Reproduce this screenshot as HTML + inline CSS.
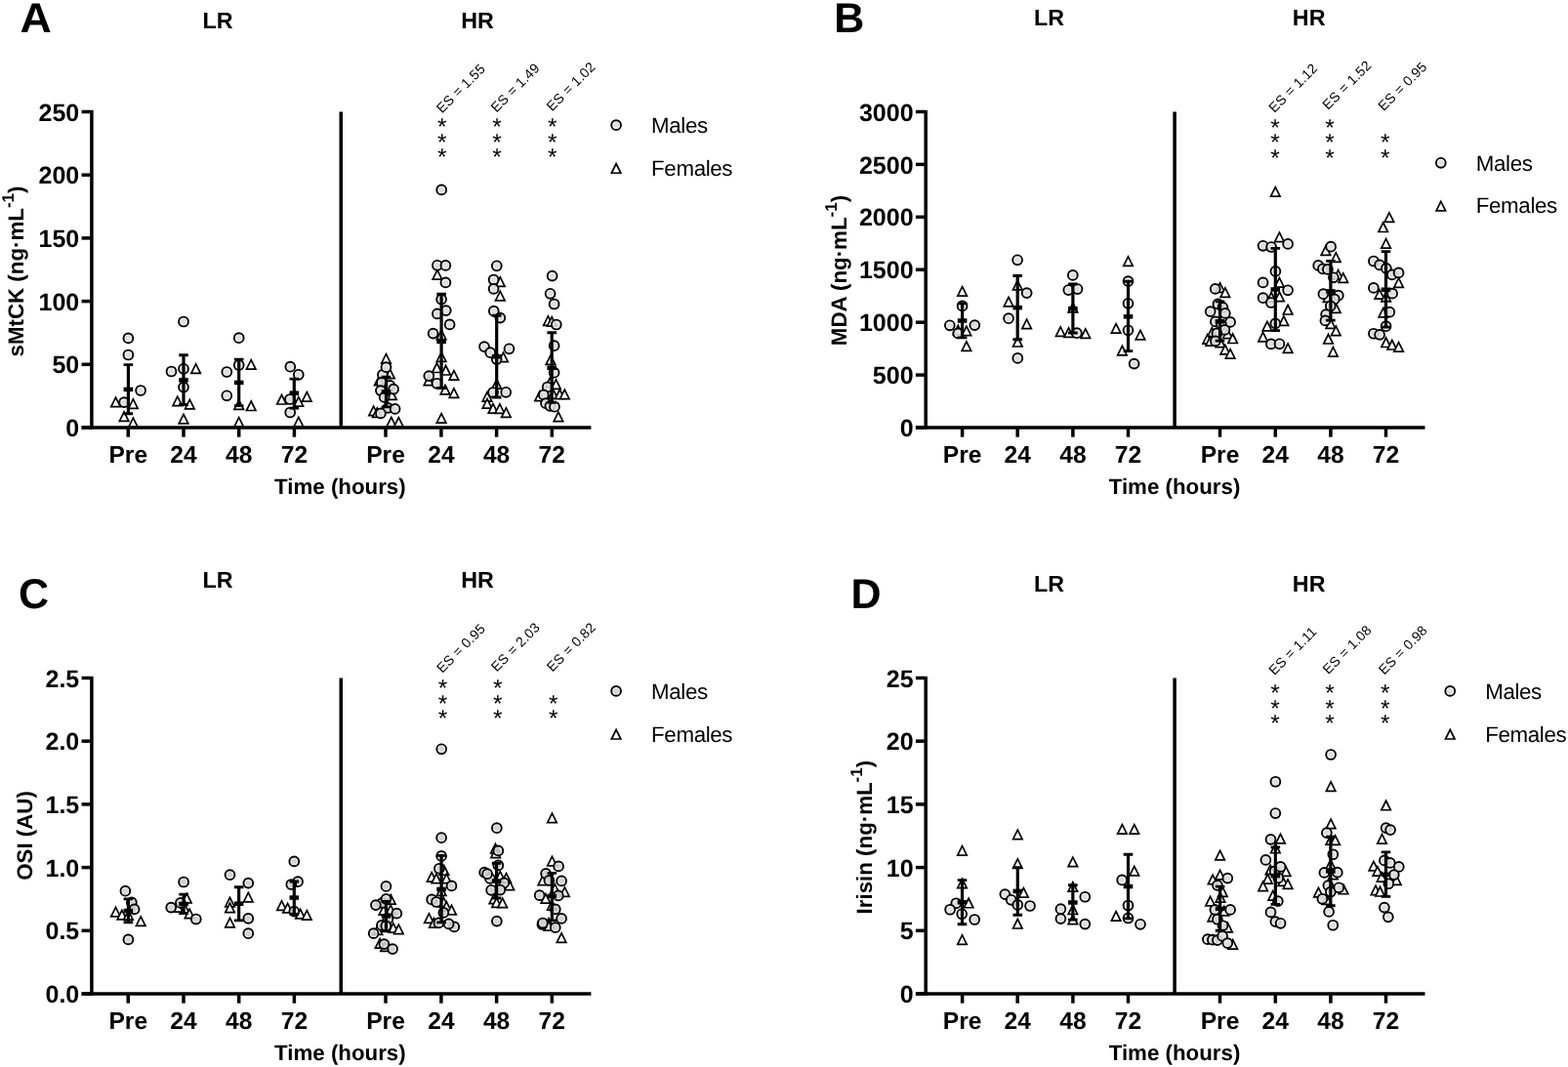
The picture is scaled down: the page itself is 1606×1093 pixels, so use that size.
<!DOCTYPE html>
<html lang="en">
<head>
<meta charset="utf-8">
<title>Figure: sMtCK, MDA, OSI and Irisin in LR and HR groups</title>
<style>
html,body{margin:0;padding:0;background:#fff}
body{width:1606px;height:1093px;overflow:hidden}
svg{display:block}
text{font-family:"Liberation Sans",Arial,Helvetica,sans-serif;fill:#000;text-rendering:geometricPrecision}
.tk text{font-weight:bold;font-size:25px}
.xt{font-weight:bold;font-size:22.3px}
.tk.x text{font-size:24.6px}
.pl{font-weight:bold;font-size:43px}
.gt{font-weight:bold;font-size:23.3px}
.lg{font-size:22.3px;letter-spacing:-0.35px}
.es{font-size:14px;letter-spacing:0.2px}
.st{font-size:24.5px}
.sup{font-size:17px}
.ax path{stroke:#000;stroke-width:3.5;fill:none}
.mk .c circle{fill:url(#gf);fill-opacity:0.9;stroke:#000;stroke-width:1.9}
.mk.dk .c circle{fill:url(#gd)}
.mk .t path{fill:#fff;stroke:#000;stroke-width:1.7;stroke-linejoin:miter;stroke-miterlimit:10}
.eb path{stroke:#000;stroke-width:3.2;fill:none}
.eb .cap{stroke-width:2.9}
.eb .mn{stroke-width:4.5}
</style>
</head>
<body>
<svg width="1606" height="1093" viewBox="0 0 1606 1093" role="img" aria-label="Scatter plots of sMtCK, MDA, OSI and Irisin in LR and HR groups for males and females">
<defs>
<radialGradient id="gf" cx="0.5" cy="0.5" r="0.5">
<stop offset="0" stop-color="#dadada"/>
<stop offset="0.5" stop-color="#dcdcdc"/>
<stop offset="0.78" stop-color="#f4f4f4"/>
<stop offset="1" stop-color="#fff"/>
</radialGradient>
<radialGradient id="gd" cx="0.5" cy="0.5" r="0.5">
<stop offset="0" stop-color="#cecece"/>
<stop offset="0.5" stop-color="#d0d0d0"/>
<stop offset="0.78" stop-color="#f0f0f0"/>
<stop offset="1" stop-color="#fff"/>
</radialGradient>
</defs>
<rect width="1606" height="1093" fill="#fff"/>
<g class="panel">
<g class="mk"><g class="t"><path d="M118.5 407.1L123.25 416.6L113.75 416.6Z"/><path d="M136.4 408.8L141.15 418.3L131.65 418.3Z"/><path d="M127.1 421.8L131.85 431.3L122.35 431.3Z"/><path d="M136.4 428.2L141.15 437.7L131.65 437.7Z"/></g><g class="c"><circle cx="131.4" cy="346.4" r="4.9"/><circle cx="131.4" cy="363.5" r="4.9"/><circle cx="144.1" cy="400" r="4.9"/><circle cx="127.1" cy="412.1" r="4.9"/></g></g>
<g class="mk"><g class="t"><path d="M200.6 372.9L205.35 382.4L195.85 382.4Z"/><path d="M181.8 406.1L186.55 415.6L177.05 415.6Z"/><path d="M194.3 409.4L199.05 418.9L189.55 418.9Z"/><path d="M188 424.4L192.75 433.9L183.25 433.9Z"/></g><g class="c"><circle cx="188" cy="329.5" r="4.9"/><circle cx="188" cy="377.8" r="4.9"/><circle cx="175.5" cy="380.5" r="4.9"/><circle cx="188" cy="396.6" r="4.9"/></g></g>
<g class="mk"><g class="t"><path d="M257.2 368.7L261.95 378.2L252.45 378.2Z"/><path d="M244.7 409.8L249.45 419.3L239.95 419.3Z"/><path d="M257.2 411L261.95 420.5L252.45 420.5Z"/><path d="M244.7 427.7L249.45 437.2L239.95 437.2Z"/></g><g class="c"><circle cx="244.7" cy="346.2" r="4.9"/><circle cx="244.7" cy="374" r="4.9"/><circle cx="232.3" cy="381" r="4.9"/><circle cx="232.3" cy="405.3" r="4.9"/></g></g>
<g class="mk"><g class="t"><path d="M288.5 404.5L293.25 414L283.75 414Z"/><path d="M305.8 406.7L310.55 416.2L301.05 416.2Z"/><path d="M314.3 401.7L319.05 411.2L309.55 411.2Z"/><path d="M305.8 427.3L310.55 436.8L301.05 436.8Z"/></g><g class="c"><circle cx="297.3" cy="375.7" r="4.9"/><circle cx="305.8" cy="383.8" r="4.9"/><circle cx="297" cy="409" r="4.9"/><circle cx="297.2" cy="422.5" r="4.9"/></g></g>
<g class="mk"><g class="t"><path d="M395.45 362.7L400.2 372.2L390.7 372.2Z"/><path d="M399.4 378.1L404.15 387.6L394.65 387.6Z"/><path d="M388.3 385.1L393.05 394.6L383.55 394.6Z"/><path d="M401.4 399.9L406.15 409.4L396.65 409.4Z"/><path d="M396.8 411.6L401.55 421.1L392.05 421.1Z"/><path d="M382.6 416.1L387.35 425.6L377.85 425.6Z"/><path d="M386.3 417.8L391.05 427.3L381.55 427.3Z"/><path d="M400.8 427.3L405.55 436.8L396.05 436.8Z"/><path d="M408.3 427.55L413.05 437.05L403.55 437.05Z"/></g><g class="c"><circle cx="391.9" cy="383.9" r="4.9"/><circle cx="395.45" cy="376.2" r="4.9"/><circle cx="390.9" cy="391.9" r="4.9"/><circle cx="399.3" cy="394.9" r="4.9"/><circle cx="403.1" cy="398.6" r="4.9"/><circle cx="389.9" cy="400.1" r="4.9"/><circle cx="393.6" cy="406.9" r="4.9"/><circle cx="397.3" cy="417.9" r="4.9"/><circle cx="404.6" cy="418.9" r="4.9"/><circle cx="389.9" cy="423.4" r="4.9"/></g></g>
<g class="mk"><g class="t"><path d="M447.9 276.7L452.65 286.2L443.15 286.2Z"/><path d="M452.1 338.1L456.85 347.6L447.35 347.6Z"/><path d="M452.1 360.9L456.85 370.4L447.35 370.4Z"/><path d="M447.5 372L452.25 381.5L442.75 381.5Z"/><path d="M456.6 374.5L461.35 384L451.85 384Z"/><path d="M464.9 379.6L469.65 389.1L460.15 389.1Z"/><path d="M439 385.1L443.75 394.6L434.25 394.6Z"/><path d="M456 394.3L460.75 403.8L451.25 403.8Z"/><path d="M464.9 397.8L469.65 407.3L460.15 407.3Z"/><path d="M452.1 423.6L456.85 433.1L447.35 433.1Z"/></g><g class="c"><circle cx="452.2" cy="194.4" r="4.9"/><circle cx="447.9" cy="271.8" r="4.9"/><circle cx="456.4" cy="271.9" r="4.9"/><circle cx="456.4" cy="289.4" r="4.9"/><circle cx="452.1" cy="306.6" r="4.9"/><circle cx="456.8" cy="318.1" r="4.9"/><circle cx="447.9" cy="321.4" r="4.9"/><circle cx="460.6" cy="332.4" r="4.9"/><circle cx="443.6" cy="341.6" r="4.9"/><circle cx="439.3" cy="385.1" r="4.9"/><circle cx="447.5" cy="392.8" r="4.9"/></g></g>
<g class="mk"><g class="t"><path d="M512.3 283.8L517.05 293.3L507.55 293.3Z"/><path d="M512.3 298.4L517.05 307.9L507.55 307.9Z"/><path d="M515.5 361.1L520.25 370.6L510.75 370.6Z"/><path d="M508.7 388.7L513.45 398.2L503.95 398.2Z"/><path d="M499 401.6L503.75 411.1L494.25 411.1Z"/><path d="M499 408.6L503.75 418.1L494.25 418.1Z"/><path d="M505 413.7L509.75 423.2L500.25 423.2Z"/><path d="M511.9 413.9L516.65 423.4L507.15 423.4Z"/><path d="M518.4 417.8L523.15 427.3L513.65 427.3Z"/></g><g class="c"><circle cx="508.8" cy="272.3" r="4.9"/><circle cx="505.6" cy="286.5" r="4.9"/><circle cx="505.6" cy="295.9" r="4.9"/><circle cx="505.8" cy="318.7" r="4.9"/><circle cx="512.3" cy="325.6" r="4.9"/><circle cx="496" cy="355.1" r="4.9"/><circle cx="502.2" cy="361.2" r="4.9"/><circle cx="521.5" cy="357.3" r="4.9"/><circle cx="508.7" cy="368.1" r="4.9"/><circle cx="505" cy="402" r="4.9"/><circle cx="518.2" cy="401.8" r="4.9"/></g></g>
<g class="mk"><g class="t"><path d="M561.4 323.8L566.15 333.3L556.65 333.3Z"/><path d="M565.2 324.6L569.95 334.1L560.45 334.1Z"/><path d="M564 363.8L568.75 373.3L559.25 373.3Z"/><path d="M563.2 387.1L567.95 396.6L558.45 396.6Z"/><path d="M569.5 388.9L574.25 398.4L564.75 398.4Z"/><path d="M566.5 398.8L571.25 408.3L561.75 408.3Z"/><path d="M573.3 399L578.05 408.5L568.55 408.5Z"/><path d="M578.3 399.1L583.05 408.6L573.55 408.6Z"/><path d="M552.6 401.1L557.35 410.6L547.85 410.6Z"/><path d="M571.9 422.2L576.65 431.7L567.15 431.7Z"/></g><g class="c"><circle cx="565.6" cy="282.6" r="4.9"/><circle cx="563.6" cy="300.8" r="4.9"/><circle cx="567.6" cy="311.5" r="4.9"/><circle cx="569.8" cy="332.5" r="4.9"/><circle cx="567.6" cy="354.2" r="4.9"/><circle cx="567.6" cy="381.7" r="4.9"/><circle cx="560.7" cy="396.5" r="4.9"/><circle cx="556.8" cy="404.4" r="4.9"/><circle cx="559" cy="413.2" r="4.9"/><circle cx="563.4" cy="415.8" r="4.9"/><circle cx="568" cy="416.7" r="4.9"/></g></g>
<g class="eb"><path d="M131.4 373.6V423.7"/><path class="cap" d="M126.6 373.6H136.2M126.6 423.7H136.2"/><path class="mn" d="M126.6 398.9H136.2"/></g>
<g class="eb"><path d="M188 363.8V414.5"/><path class="cap" d="M183.2 363.8H192.8M183.2 414.5H192.8"/><path class="mn" d="M183.2 389.4H192.8"/></g>
<g class="eb"><path d="M244.7 368.1V415.6"/><path class="cap" d="M239.9 368.1H249.5M239.9 415.6H249.5"/><path class="mn" d="M239.9 391.9H249.5"/></g>
<g class="eb"><path d="M301.3 388.1V418.1"/><path class="cap" d="M296.5 388.1H306.1M296.5 418.1H306.1"/><path class="mn" d="M296.5 402.7H306.1"/></g>
<g class="eb"><path d="M395.5 386.1V416.9"/><path class="cap" d="M390.7 386.1H400.3M390.7 416.9H400.3"/><path class="mn" d="M390.7 401.4H400.3"/></g>
<g class="eb"><path d="M452.1 301.3V397.5"/><path class="cap" d="M447.3 301.3H456.9M447.3 397.5H456.9"/><path class="mn" d="M447.3 349.9H456.9"/></g>
<g class="eb"><path d="M508.7 323.2V407"/><path class="cap" d="M503.9 323.2H513.5M503.9 407H513.5"/><path class="mn" d="M503.9 365.2H513.5"/></g>
<g class="eb"><path d="M565.2 340.7V412.2"/><path class="cap" d="M560.4 340.7H570M560.4 412.2H570"/><path class="mn" d="M560.4 376.8H570"/></g>
<g class="ax">
<path d="M83.6 438H605.4"/>
<path d="M93.9 112.9V439.6"/>
<path d="M349.25 114.5V438"/>
<path d="M83.6 438H93.9"/>
<path d="M83.6 373.3H93.9"/>
<path d="M83.6 308.6H93.9"/>
<path d="M83.6 243.9H93.9"/>
<path d="M83.6 179.2H93.9"/>
<path d="M83.6 114.5H93.9"/>
<path d="M131.25 438V447.7"/>
<path d="M188 438V447.7"/>
<path d="M244.7 438V447.7"/>
<path d="M301.4 438V447.7"/>
<path d="M395 438V447.7"/>
<path d="M451.9 438V447.7"/>
<path d="M508.6 438V447.7"/>
<path d="M565.3 438V447.7"/>
</g>
<g class="tk" text-anchor="end">
<text x="81.25" y="447.1">0</text>
<text x="81.25" y="382.4">50</text>
<text x="81.25" y="317.7">100</text>
<text x="81.25" y="253">150</text>
<text x="81.25" y="188.3">200</text>
<text x="81.25" y="123.6">250</text>
</g>
<g class="tk x" text-anchor="middle">
<text x="131.25" y="473.7">Pre</text>
<text x="188" y="473.7">24</text>
<text x="244.7" y="473.7">48</text>
<text x="301.4" y="473.7">72</text>
<text x="395" y="473.7">Pre</text>
<text x="451.9" y="473.7">24</text>
<text x="508.6" y="473.7">48</text>
<text x="565.3" y="473.7">72</text>
</g>
<text class="xt" text-anchor="middle" x="348.4" y="505.6">Time (hours)</text>
<text class="xt" text-anchor="middle" transform="translate(24.3 278) rotate(-90)">sMtCK (ng·mL<tspan class="sup" dy="-10">-1</tspan><tspan dy="10">)</tspan></text>
<text class="pl" transform="translate(20.4 32.8) scale(1.04 1)">A</text>
<text class="gt" text-anchor="middle" x="223" y="29.3">LR</text>
<text class="gt" text-anchor="middle" x="489" y="29.3">HR</text>
<g class="mk"><g class="c"><circle cx="631.1" cy="128.15" r="4.9"/></g><g class="t"><path d="M631.1 167.75L635.85 177.25L626.35 177.25Z"/></g></g>
<text class="lg" x="667.1" y="135.85">Males</text>
<text class="lg" x="667.1" y="179.75">Females</text>
<text class="es" transform="translate(452.8 116.4) rotate(-45)">ES = 1.55</text>
<text class="st" text-anchor="middle" x="452.8" y="169.3">*</text>
<text class="st" text-anchor="middle" x="452.8" y="153.7">*</text>
<text class="st" text-anchor="middle" x="452.8" y="138.1">*</text>
<text class="es" transform="translate(508.6 115.7) rotate(-45)">ES = 1.49</text>
<text class="st" text-anchor="middle" x="509" y="169.3">*</text>
<text class="st" text-anchor="middle" x="509" y="153.7">*</text>
<text class="st" text-anchor="middle" x="509" y="138.1">*</text>
<text class="es" transform="translate(565.6 114.4) rotate(-45)">ES = 1.02</text>
<text class="st" text-anchor="middle" x="565.8" y="169.3">*</text>
<text class="st" text-anchor="middle" x="565.8" y="153.7">*</text>
<text class="st" text-anchor="middle" x="565.8" y="138.1">*</text>
</g>
<g class="panel">
<g class="mk"><g class="t"><path d="M985.6 293.7L990.35 303.2L980.85 303.2Z"/><path d="M981.3 333.5L986.05 343L976.55 343Z"/><path d="M989.9 334.1L994.65 343.6L985.15 343.6Z"/><path d="M989.9 349.9L994.65 359.4L985.15 359.4Z"/></g><g class="c"><circle cx="985.6" cy="313.4" r="4.9"/><circle cx="972.8" cy="333.3" r="4.9"/><circle cx="998.3" cy="333.1" r="4.9"/><circle cx="981.2" cy="341.4" r="4.9"/></g></g>
<g class="mk"><g class="t"><path d="M1042.2 287.3L1046.95 296.8L1037.45 296.8Z"/><path d="M1033.05 304.4L1037.8 313.9L1028.3 313.9Z"/><path d="M1051.6 327.2L1056.35 336.7L1046.85 336.7Z"/><path d="M1042.3 345.5L1047.05 355L1037.55 355Z"/></g><g class="c"><circle cx="1042.1" cy="266.3" r="4.9"/><circle cx="1051.65" cy="300.1" r="4.9"/><circle cx="1033.05" cy="326.2" r="4.9"/><circle cx="1042.3" cy="366.9" r="4.9"/></g></g>
<g class="mk"><g class="t"><path d="M1098.9 310.4L1103.65 319.9L1094.15 319.9Z"/><path d="M1086.2 334.9L1090.95 344.4L1081.45 344.4Z"/><path d="M1094.6 335.8L1099.35 345.3L1089.85 345.3Z"/><path d="M1111.8 336.9L1116.55 346.4L1107.05 346.4Z"/></g><g class="c"><circle cx="1098.8" cy="281.9" r="4.9"/><circle cx="1094.3" cy="297.05" r="4.9"/><circle cx="1103.55" cy="296.05" r="4.9"/><circle cx="1102.9" cy="341.2" r="4.9"/></g></g>
<g class="mk"><g class="t"><path d="M1155.5 262.9L1160.25 272.4L1150.75 272.4Z"/><path d="M1143.1 331.7L1147.85 341.2L1138.35 341.2Z"/><path d="M1168 338.3L1172.75 347.8L1163.25 347.8Z"/><path d="M1149.4 354.3L1154.15 363.8L1144.65 363.8Z"/></g><g class="c"><circle cx="1155.5" cy="288.1" r="4.9"/><circle cx="1155.5" cy="310.8" r="4.9"/><circle cx="1155.5" cy="338.3" r="4.9"/><circle cx="1161.6" cy="372.6" r="4.9"/></g></g>
<g class="mk"><g class="t"><path d="M1249.6 289.8L1254.35 299.3L1244.85 299.3Z"/><path d="M1254.85 294.9L1259.6 304.4L1250.1 304.4Z"/><path d="M1241.4 335.6L1246.15 345.1L1236.65 345.1Z"/><path d="M1257.3 337.1L1262.05 346.6L1252.55 346.6Z"/><path d="M1236.7 342.6L1241.45 352.1L1231.95 352.1Z"/><path d="M1239.7 344.6L1244.45 354.1L1234.95 354.1Z"/><path d="M1262.6 342L1267.35 351.5L1257.85 351.5Z"/><path d="M1249.9 346.1L1254.65 355.6L1245.15 355.6Z"/><path d="M1254.85 353.3L1259.6 362.8L1250.1 362.8Z"/><path d="M1260.1 357.65L1264.85 367.15L1255.35 367.15Z"/></g><g class="c"><circle cx="1244.7" cy="295.9" r="4.9"/><circle cx="1247.4" cy="311.4" r="4.9"/><circle cx="1252.4" cy="314.9" r="4.9"/><circle cx="1239.7" cy="319.1" r="4.9"/><circle cx="1254.85" cy="320.9" r="4.9"/><circle cx="1244.9" cy="329.4" r="4.9"/><circle cx="1260.1" cy="329.9" r="4.9"/><circle cx="1250.9" cy="332.6" r="4.9"/><circle cx="1254.4" cy="337.9" r="4.9"/><circle cx="1246.4" cy="341.4" r="4.9"/><circle cx="1244.9" cy="349.4" r="4.9"/></g></g>
<g class="mk"><g class="t"><path d="M1306.3 191.6L1311.05 201.1L1301.55 201.1Z"/><path d="M1310.4 238.2L1315.15 247.7L1305.65 247.7Z"/><path d="M1310.4 284.6L1315.15 294.1L1305.65 294.1Z"/><path d="M1302.1 299.6L1306.85 309.1L1297.35 309.1Z"/><path d="M1310.5 299.1L1315.25 308.6L1305.75 308.6Z"/><path d="M1319.1 312.5L1323.85 322L1314.35 322Z"/><path d="M1314.85 323.8L1319.6 333.3L1310.1 333.3Z"/><path d="M1297.9 329.3L1302.65 338.8L1293.15 338.8Z"/><path d="M1293.6 340.3L1298.35 349.8L1288.85 349.8Z"/><path d="M1319.1 351.9L1323.85 361.4L1314.35 361.4Z"/></g><g class="c"><circle cx="1293.6" cy="251.8" r="4.9"/><circle cx="1302.1" cy="253" r="4.9"/><circle cx="1319.1" cy="249.9" r="4.9"/><circle cx="1306.4" cy="277.9" r="4.9"/><circle cx="1293.6" cy="289.4" r="4.9"/><circle cx="1319.1" cy="297.3" r="4.9"/><circle cx="1293.6" cy="305.2" r="4.9"/><circle cx="1301.9" cy="310" r="4.9"/><circle cx="1306.3" cy="331.35" r="4.9"/><circle cx="1301.9" cy="352.4" r="4.9"/><circle cx="1310.5" cy="352.3" r="4.9"/></g></g>
<g class="mk"><g class="t"><path d="M1357.9 251.9L1362.65 261.4L1353.15 261.4Z"/><path d="M1368.3 258.9L1373.05 268.4L1363.55 268.4Z"/><path d="M1370.6 276.6L1375.35 286.1L1365.85 286.1Z"/><path d="M1375.8 279.9L1380.55 289.4L1371.05 289.4Z"/><path d="M1360.1 299.9L1364.85 309.4L1355.35 309.4Z"/><path d="M1368.3 310.8L1373.05 320.3L1363.55 320.3Z"/><path d="M1362.9 326.9L1367.65 336.4L1358.15 336.4Z"/><path d="M1368.3 334.1L1373.05 343.6L1363.55 343.6Z"/><path d="M1360.5 342.5L1365.25 352L1355.75 352Z"/><path d="M1365.4 355.7L1370.15 365.2L1360.65 365.2Z"/></g><g class="c"><circle cx="1363.1" cy="252.7" r="4.9"/><circle cx="1350.2" cy="271.9" r="4.9"/><circle cx="1354.9" cy="275.4" r="4.9"/><circle cx="1359.9" cy="275.9" r="4.9"/><circle cx="1365.85" cy="284.3" r="4.9"/><circle cx="1355.4" cy="301.2" r="4.9"/><circle cx="1370.8" cy="302.7" r="4.9"/><circle cx="1366.8" cy="306.4" r="4.9"/><circle cx="1362.8" cy="313.4" r="4.9"/><circle cx="1358.1" cy="322.1" r="4.9"/><circle cx="1357.4" cy="328.4" r="4.9"/></g></g>
<g class="mk"><g class="t"><path d="M1422.9 217.8L1427.65 227.3L1418.15 227.3Z"/><path d="M1416.7 228L1421.45 237.5L1411.95 237.5Z"/><path d="M1419.6 244.7L1424.35 254.2L1414.85 254.2Z"/><path d="M1432.55 284.8L1437.3 294.3L1427.8 294.3Z"/><path d="M1412.9 296.6L1417.65 306.1L1408.15 306.1Z"/><path d="M1419.6 299.4L1424.35 308.9L1414.85 308.9Z"/><path d="M1416.9 315.3L1421.65 324.8L1412.15 324.8Z"/><path d="M1419.6 346L1424.35 355.5L1414.85 355.5Z"/><path d="M1425.8 348.5L1430.55 358L1421.05 358Z"/><path d="M1432.55 350.6L1437.3 360.1L1427.8 360.1Z"/></g><g class="c"><circle cx="1406.9" cy="267.5" r="4.9"/><circle cx="1413.1" cy="271.4" r="4.9"/><circle cx="1419.85" cy="274.9" r="4.9"/><circle cx="1425.8" cy="281.4" r="4.9"/><circle cx="1432.55" cy="279.4" r="4.9"/><circle cx="1406.9" cy="294.9" r="4.9"/><circle cx="1426.1" cy="300.65" r="4.9"/><circle cx="1423.3" cy="319.65" r="4.9"/><circle cx="1419.6" cy="334.2" r="4.9"/><circle cx="1406.9" cy="341.75" r="4.9"/><circle cx="1413.1" cy="342.85" r="4.9"/></g></g>
<g class="eb"><path d="M985.6 310.9V345.9"/><path class="cap" d="M980.8 310.9H990.4M980.8 345.9H990.4"/><path class="mn" d="M980.8 328.5H990.4"/></g>
<g class="eb"><path d="M1042.2 282.5V347.7"/><path class="cap" d="M1037.4 282.5H1047M1037.4 347.7H1047"/><path class="mn" d="M1037.4 315.1H1047"/></g>
<g class="eb"><path d="M1098.9 291V341"/><path class="cap" d="M1094.1 291H1103.7M1094.1 341H1103.7"/><path class="mn" d="M1094.1 316.2H1103.7"/></g>
<g class="eb"><path d="M1155.5 288.3V359.6"/><path class="cap" d="M1150.7 288.3H1160.3M1150.7 359.6H1160.3"/><path class="mn" d="M1150.7 324.3H1160.3"/></g>
<g class="eb"><path d="M1249.5 308.9V349.1"/><path class="cap" d="M1244.7 308.9H1254.3M1244.7 349.1H1254.3"/><path class="mn" d="M1244.7 329.3H1254.3"/></g>
<g class="eb"><path d="M1306.3 254.4V338.6"/><path class="cap" d="M1301.5 254.4H1311.1M1301.5 338.6H1311.1"/><path class="mn" d="M1301.5 296.5H1311.1"/></g>
<g class="eb"><path d="M1362.9 267.4V328.1"/><path class="cap" d="M1358.1 267.4H1367.7M1358.1 328.1H1367.7"/><path class="mn" d="M1358.1 298.4H1367.7"/></g>
<g class="eb"><path d="M1419.5 257.6V335.1"/><path class="cap" d="M1414.7 257.6H1424.3M1414.7 335.1H1424.3"/><path class="mn" d="M1414.7 296.7H1424.3"/></g>
<g class="ax">
<path d="M937.9 438H1459.5"/>
<path d="M948.2 112.9V439.6"/>
<path d="M1203.1 114.5V438"/>
<path d="M937.9 438H948.2"/>
<path d="M937.9 384.08H948.2"/>
<path d="M937.9 330.17H948.2"/>
<path d="M937.9 276.25H948.2"/>
<path d="M937.9 222.33H948.2"/>
<path d="M937.9 168.42H948.2"/>
<path d="M937.9 114.5H948.2"/>
<path d="M985.6 438V447.7"/>
<path d="M1042.2 438V447.7"/>
<path d="M1098.9 438V447.7"/>
<path d="M1155.5 438V447.7"/>
<path d="M1249.5 438V447.7"/>
<path d="M1306.3 438V447.7"/>
<path d="M1362.9 438V447.7"/>
<path d="M1419.5 438V447.7"/>
</g>
<g class="tk" text-anchor="end">
<text x="935.55" y="447.1">0</text>
<text x="935.55" y="393.18">500</text>
<text x="935.55" y="339.27">1000</text>
<text x="935.55" y="285.35">1500</text>
<text x="935.55" y="231.43">2000</text>
<text x="935.55" y="177.52">2500</text>
<text x="935.55" y="123.6">3000</text>
</g>
<g class="tk x" text-anchor="middle">
<text x="985.6" y="473.7">Pre</text>
<text x="1042.2" y="473.7">24</text>
<text x="1098.9" y="473.7">48</text>
<text x="1155.5" y="473.7">72</text>
<text x="1249.5" y="473.7">Pre</text>
<text x="1306.3" y="473.7">24</text>
<text x="1362.9" y="473.7">48</text>
<text x="1419.5" y="473.7">72</text>
</g>
<text class="xt" text-anchor="middle" x="1203" y="505.6">Time (hours)</text>
<text class="xt" text-anchor="middle" transform="translate(866.8 277) rotate(-90)">MDA (ng·mL<tspan class="sup" dy="-10">-1</tspan><tspan dy="10">)</tspan></text>
<text class="pl" x="854.2" y="32.7">B</text>
<text class="gt" text-anchor="middle" x="1074.6" y="26.3">LR</text>
<text class="gt" text-anchor="middle" x="1340.7" y="26.3">HR</text>
<g class="mk"><g class="c"><circle cx="1475.8" cy="166.8" r="4.9"/></g><g class="t"><path d="M1475.8 206.4L1480.55 215.9L1471.05 215.9Z"/></g></g>
<text class="lg" x="1511.8" y="174.5">Males</text>
<text class="lg" x="1511.8" y="218.4">Females</text>
<text class="es" transform="translate(1305.2 116) rotate(-45)">ES = 1.12</text>
<text class="st" text-anchor="middle" x="1306" y="170">*</text>
<text class="st" text-anchor="middle" x="1306" y="154.4">*</text>
<text class="st" text-anchor="middle" x="1306" y="138.8">*</text>
<text class="es" transform="translate(1360.3 113) rotate(-45)">ES = 1.52</text>
<text class="st" text-anchor="middle" x="1362" y="170">*</text>
<text class="st" text-anchor="middle" x="1362" y="154.4">*</text>
<text class="st" text-anchor="middle" x="1362" y="138.8">*</text>
<text class="es" transform="translate(1417.3 114.3) rotate(-45)">ES = 0.95</text>
<text class="st" text-anchor="middle" x="1418.7" y="170">*</text>
<text class="st" text-anchor="middle" x="1418.7" y="154.4">*</text>
</g>
<g class="panel">
<g class="mk dk"><g class="t"><path d="M118.5 929.4L123.25 938.9L113.75 938.9Z"/><path d="M124.9 932.3L129.65 941.8L120.15 941.8Z"/><path d="M131.4 932.6L136.15 942.1L126.65 942.1Z"/><path d="M144.2 938.9L148.95 948.4L139.45 948.4Z"/></g><g class="c"><circle cx="128.4" cy="912.7" r="4.9"/><circle cx="134.85" cy="924.4" r="4.9"/><circle cx="137.6" cy="931.4" r="4.9"/><circle cx="131.4" cy="962.4" r="4.9"/></g></g>
<g class="mk dk"><g class="t"><path d="M191.3 915.4L196.05 924.9L186.55 924.9Z"/><path d="M182.4 924.6L187.15 934.1L177.65 934.1Z"/><path d="M189.4 926.6L194.15 936.1L184.65 936.1Z"/><path d="M194.1 931.2L198.85 940.7L189.35 940.7Z"/></g><g class="c"><circle cx="188.1" cy="903.5" r="4.9"/><circle cx="184.9" cy="924.9" r="4.9"/><circle cx="175.2" cy="929.6" r="4.9"/><circle cx="200.8" cy="941.5" r="4.9"/></g></g>
<g class="mk dk"><g class="t"><path d="M254.3 914.3L259.05 923.8L249.55 923.8Z"/><path d="M235.5 919.3L240.25 928.8L230.75 928.8Z"/><path d="M235.5 925.05L240.25 934.55L230.75 934.55Z"/><path d="M235.5 940.35L240.25 949.85L230.75 949.85Z"/></g><g class="c"><circle cx="235.5" cy="896.15" r="4.9"/><circle cx="254.3" cy="904.6" r="4.9"/><circle cx="254.3" cy="940.85" r="4.9"/><circle cx="254.3" cy="956.2" r="4.9"/></g></g>
<g class="mk dk"><g class="t"><path d="M288.5 922.95L293.25 932.45L283.75 932.45Z"/><path d="M294.6 925.4L299.35 934.9L289.85 934.9Z"/><path d="M307.6 931.3L312.35 940.8L302.85 940.8Z"/><path d="M314.3 932.7L319.05 942.2L309.55 942.2Z"/></g><g class="c"><circle cx="301.3" cy="882.4" r="4.9"/><circle cx="305.1" cy="903.2" r="4.9"/><circle cx="298.3" cy="906" r="4.9"/><circle cx="301.3" cy="933.6" r="4.9"/></g></g>
<g class="mk dk"><g class="t"><path d="M400.3 916.6L405.05 926.1L395.55 926.1Z"/><path d="M400.1 927.1L404.85 936.6L395.35 936.6Z"/><path d="M392.9 927.6L397.65 937.1L388.15 937.1Z"/><path d="M402.8 945.6L407.55 955.1L398.05 955.1Z"/><path d="M408.3 947.1L413.05 956.6L403.55 956.6Z"/><path d="M386.9 947.9L391.65 957.4L382.15 957.4Z"/><path d="M389.1 961.7L393.85 971.2L384.35 971.2Z"/><path d="M394.6 964.8L399.35 974.3L389.85 974.3Z"/></g><g class="c"><circle cx="395.45" cy="907.95" r="4.9"/><circle cx="391.4" cy="924.9" r="4.9"/><circle cx="395.45" cy="920.9" r="4.9"/><circle cx="384.9" cy="927.1" r="4.9"/><circle cx="406.3" cy="935.65" r="4.9"/><circle cx="397.5" cy="941.2" r="4.9"/><circle cx="390.9" cy="947.9" r="4.9"/><circle cx="395.35" cy="948.4" r="4.9"/><circle cx="382.65" cy="956.15" r="4.9"/><circle cx="393.4" cy="967.1" r="4.9"/><circle cx="402.1" cy="972.1" r="4.9"/></g></g>
<g class="mk dk"><g class="t"><path d="M454.85 886.75L459.6 896.25L450.1 896.25Z"/><path d="M442.15 893.6L446.9 903.1L437.4 903.1Z"/><path d="M446.9 895.1L451.65 904.6L442.15 904.6Z"/><path d="M457.3 895.1L462.05 904.6L452.55 904.6Z"/><path d="M452.1 907.8L456.85 917.3L447.35 917.3Z"/><path d="M454.4 919.6L459.15 929.1L449.65 929.1Z"/><path d="M457.3 923.6L462.05 933.1L452.55 933.1Z"/><path d="M462.5 927.4L467.25 936.9L457.75 936.9Z"/><path d="M439.4 935.9L444.15 945.4L434.65 945.4Z"/><path d="M444.4 940.7L449.15 950.2L439.65 950.2Z"/></g><g class="c"><circle cx="452.2" cy="767.3" r="4.9"/><circle cx="452.1" cy="858.2" r="4.9"/><circle cx="452.1" cy="876.9" r="4.9"/><circle cx="449.9" cy="889.75" r="4.9"/><circle cx="462.5" cy="907.4" r="4.9"/><circle cx="442.15" cy="921.4" r="4.9"/><circle cx="447" cy="924" r="4.9"/><circle cx="454.35" cy="934.9" r="4.9"/><circle cx="449.4" cy="945.4" r="4.9"/><circle cx="465.3" cy="949.4" r="4.9"/><circle cx="459.6" cy="946.4" r="4.9"/></g></g>
<g class="mk dk"><g class="t"><path d="M507.4 864.4L512.15 873.9L502.65 873.9Z"/><path d="M507.6 869.1L512.35 878.6L502.85 878.6Z"/><path d="M512.3 892.6L517.05 902.1L507.55 902.1Z"/><path d="M518.6 894.7L523.35 904.2L513.85 904.2Z"/><path d="M521.8 902.1L526.55 911.6L517.05 911.6Z"/><path d="M505.9 916.2L510.65 925.7L501.15 925.7Z"/><path d="M508.6 919.9L513.35 929.4L503.85 929.4Z"/><path d="M514.7 920.1L519.45 929.6L509.95 929.6Z"/></g><g class="c"><circle cx="508.85" cy="848.2" r="4.9"/><circle cx="510.35" cy="871.4" r="4.9"/><circle cx="510.35" cy="886.4" r="4.9"/><circle cx="496.15" cy="893.7" r="4.9"/><circle cx="501.9" cy="899.9" r="4.9"/><circle cx="499.1" cy="895.2" r="4.9"/><circle cx="516.3" cy="904.4" r="4.9"/><circle cx="503.1" cy="911.8" r="4.9"/><circle cx="512.3" cy="911.55" r="4.9"/><circle cx="508.85" cy="943.6" r="4.9"/></g></g>
<g class="mk dk"><g class="t"><path d="M565.45 833.15L570.2 842.65L560.7 842.65Z"/><path d="M565.45 877.3L570.2 886.8L560.7 886.8Z"/><path d="M555.9 897.1L560.65 906.6L551.15 906.6Z"/><path d="M568.3 905.55L573.05 915.05L563.55 915.05Z"/><path d="M578.4 908.85L583.15 918.35L573.65 918.35Z"/><path d="M558.9 915.6L563.65 925.1L554.15 925.1Z"/><path d="M565.35 922.6L570.1 932.1L560.6 932.1Z"/><path d="M562.1 940.55L566.85 950.05L557.35 950.05Z"/><path d="M561.9 943.65L566.65 953.15L557.15 953.15Z"/><path d="M575.1 955.9L579.85 965.4L570.35 965.4Z"/></g><g class="c"><circle cx="572.1" cy="887.4" r="4.9"/><circle cx="559.1" cy="894.9" r="4.9"/><circle cx="562.4" cy="901.9" r="4.9"/><circle cx="575.1" cy="902.4" r="4.9"/><circle cx="552.65" cy="917.15" r="4.9"/><circle cx="571.8" cy="917.4" r="4.9"/><circle cx="568.8" cy="931.4" r="4.9"/><circle cx="575.1" cy="940.9" r="4.9"/><circle cx="555.4" cy="947" r="4.9"/><circle cx="555.9" cy="945.5" r="4.9"/><circle cx="568.8" cy="950.15" r="4.9"/></g></g>
<g class="eb"><path d="M131.4 920.9V944.8"/><path class="cap" d="M126.6 920.9H136.2M126.6 944.8H136.2"/><path class="mn" d="M126.6 933H136.2"/></g>
<g class="eb"><path d="M188.1 916.1V935.5"/><path class="cap" d="M183.3 916.1H192.9M183.3 935.5H192.9"/><path class="mn" d="M183.3 926H192.9"/></g>
<g class="eb"><path d="M244.65 908.7V942.9"/><path class="cap" d="M239.85 908.7H249.45M239.85 942.9H249.45"/><path class="mn" d="M239.85 925.7H249.45"/></g>
<g class="eb"><path d="M301.3 903V936.4"/><path class="cap" d="M296.5 903H306.1M296.5 936.4H306.1"/><path class="mn" d="M296.5 919.55H306.1"/></g>
<g class="eb"><path d="M395.45 923.4V953.9"/><path class="cap" d="M390.65 923.4H400.25M390.65 953.9H400.25"/><path class="mn" d="M390.65 938.3H400.25"/></g>
<g class="eb"><path d="M452.1 876.4V944.9"/><path class="cap" d="M447.3 876.4H456.9M447.3 944.9H456.9"/><path class="mn" d="M447.3 910.9H456.9"/></g>
<g class="eb"><path d="M508.6 884.3V920"/><path class="cap" d="M503.8 884.3H513.4M503.8 920H513.4"/><path class="mn" d="M503.8 902.6H513.4"/></g>
<g class="eb"><path d="M565.35 894.4V942.9"/><path class="cap" d="M560.55 894.4H570.15M560.55 942.9H570.15"/><path class="mn" d="M560.55 918H570.15"/></g>
<g class="ax">
<path d="M83.6 1018H605.4"/>
<path d="M93.9 692.9V1019.6"/>
<path d="M349.25 694.5V1018"/>
<path d="M83.6 1018H93.9"/>
<path d="M83.6 953.3H93.9"/>
<path d="M83.6 888.6H93.9"/>
<path d="M83.6 823.9H93.9"/>
<path d="M83.6 759.2H93.9"/>
<path d="M83.6 694.5H93.9"/>
<path d="M131.25 1018V1027.7"/>
<path d="M188 1018V1027.7"/>
<path d="M244.7 1018V1027.7"/>
<path d="M301.4 1018V1027.7"/>
<path d="M395 1018V1027.7"/>
<path d="M451.9 1018V1027.7"/>
<path d="M508.6 1018V1027.7"/>
<path d="M565.3 1018V1027.7"/>
</g>
<g class="tk" text-anchor="end">
<text x="81.25" y="1027.1">0.0</text>
<text x="81.25" y="962.4">0.5</text>
<text x="81.25" y="897.7">1.0</text>
<text x="81.25" y="833">1.5</text>
<text x="81.25" y="768.3">2.0</text>
<text x="81.25" y="703.6">2.5</text>
</g>
<g class="tk x" text-anchor="middle">
<text x="131.25" y="1053.7">Pre</text>
<text x="188" y="1053.7">24</text>
<text x="244.7" y="1053.7">48</text>
<text x="301.4" y="1053.7">72</text>
<text x="395" y="1053.7">Pre</text>
<text x="451.9" y="1053.7">24</text>
<text x="508.6" y="1053.7">48</text>
<text x="565.3" y="1053.7">72</text>
</g>
<text class="xt" text-anchor="middle" x="348.4" y="1085.6">Time (hours)</text>
<text class="xt" text-anchor="middle" transform="translate(32.5 856) rotate(-90)">OSI (AU)</text>
<text class="pl" x="19" y="622.6">C</text>
<text class="gt" text-anchor="middle" x="223" y="601.8">LR</text>
<text class="gt" text-anchor="middle" x="489" y="601.8">HR</text>
<g class="mk dk"><g class="c"><circle cx="631.1" cy="707.9" r="4.9"/></g><g class="t"><path d="M631.1 747.5L635.85 757L626.35 757Z"/></g></g>
<text class="lg" x="667.1" y="715.6">Males</text>
<text class="lg" x="667.1" y="759.5">Females</text>
<text class="es" transform="translate(452.9 689.9) rotate(-45)">ES = 0.95</text>
<text class="st" text-anchor="middle" x="453.6" y="744.3">*</text>
<text class="st" text-anchor="middle" x="453.6" y="728.7">*</text>
<text class="st" text-anchor="middle" x="453.6" y="713.1">*</text>
<text class="es" transform="translate(508.8 688.65) rotate(-45)">ES = 2.03</text>
<text class="st" text-anchor="middle" x="509.8" y="744.3">*</text>
<text class="st" text-anchor="middle" x="509.8" y="728.7">*</text>
<text class="st" text-anchor="middle" x="509.8" y="713.1">*</text>
<text class="es" transform="translate(565.8 688.65) rotate(-45)">ES = 0.82</text>
<text class="st" text-anchor="middle" x="566.7" y="744.3">*</text>
<text class="st" text-anchor="middle" x="566.7" y="728.7">*</text>
</g>
<g class="panel">
<g class="mk"><g class="t"><path d="M985.5 866.6L990.25 876.1L980.75 876.1Z"/><path d="M985.5 900.2L990.25 909.7L980.75 909.7Z"/><path d="M992.1 920.25L996.85 929.75L987.35 929.75Z"/><path d="M985.5 957.8L990.25 967.3L980.75 967.3Z"/></g><g class="c"><circle cx="979.3" cy="925.25" r="4.9"/><circle cx="973.1" cy="931.75" r="4.9"/><circle cx="985.2" cy="936.3" r="4.9"/><circle cx="998.2" cy="942" r="4.9"/></g></g>
<g class="mk"><g class="t"><path d="M1042.3 850.1L1047.05 859.6L1037.55 859.6Z"/><path d="M1042.3 879.8L1047.05 889.3L1037.55 889.3Z"/><path d="M1048.4 909.6L1053.15 919.1L1043.65 919.1Z"/><path d="M1042.3 941.5L1047.05 951L1037.55 951Z"/></g><g class="c"><circle cx="1029.35" cy="916.1" r="4.9"/><circle cx="1035.7" cy="921.8" r="4.9"/><circle cx="1042.3" cy="926.9" r="4.9"/><circle cx="1055" cy="928" r="4.9"/></g></g>
<g class="mk"><g class="t"><path d="M1098.85 878.2L1103.6 887.7L1094.1 887.7Z"/><path d="M1098.85 903.55L1103.6 913.05L1094.1 913.05Z"/><path d="M1098.85 927L1103.6 936.5L1094.1 936.5Z"/><path d="M1098.85 937.2L1103.6 946.7L1094.1 946.7Z"/></g><g class="c"><circle cx="1111.3" cy="918.75" r="4.9"/><circle cx="1086.4" cy="931.2" r="4.9"/><circle cx="1086.4" cy="941.1" r="4.9"/><circle cx="1111.3" cy="946.6" r="4.9"/></g></g>
<g class="mk"><g class="t"><path d="M1149.4 844.7L1154.15 854.2L1144.65 854.2Z"/><path d="M1161.8 844.7L1166.55 854.2L1157.05 854.2Z"/><path d="M1161.8 887.3L1166.55 896.8L1157.05 896.8Z"/><path d="M1143.1 933.7L1147.85 943.2L1138.35 943.2Z"/></g><g class="c"><circle cx="1149.2" cy="901.45" r="4.9"/><circle cx="1155.5" cy="927.5" r="4.9"/><circle cx="1155.5" cy="940.5" r="4.9"/><circle cx="1168" cy="946.8" r="4.9"/></g></g>
<g class="mk"><g class="t"><path d="M1249.6 871.4L1254.35 880.9L1244.85 880.9Z"/><path d="M1249.6 891.3L1254.35 900.8L1244.85 900.8Z"/><path d="M1242.1 896.2L1246.85 905.7L1237.35 905.7Z"/><path d="M1252.3 908.9L1257.05 918.4L1247.55 918.4Z"/><path d="M1239.6 918.3L1244.35 927.8L1234.85 927.8Z"/><path d="M1250 914.6L1254.75 924.1L1245.25 924.1Z"/><path d="M1253.8 928.3L1258.55 937.8L1249.05 937.8Z"/><path d="M1241.9 934.3L1246.65 943.8L1237.15 943.8Z"/><path d="M1257.5 945.35L1262.25 954.85L1252.75 954.85Z"/><path d="M1262.7 962.7L1267.45 972.2L1257.95 972.2Z"/></g><g class="c"><circle cx="1257.3" cy="899.6" r="4.9"/><circle cx="1246.9" cy="906.9" r="4.9"/><circle cx="1244.4" cy="931.9" r="4.9"/><circle cx="1260.1" cy="931.9" r="4.9"/><circle cx="1246.9" cy="941.75" r="4.9"/><circle cx="1252.5" cy="948.25" r="4.9"/><circle cx="1236.9" cy="962.15" r="4.9"/><circle cx="1241.9" cy="962.65" r="4.9"/><circle cx="1246.9" cy="963.1" r="4.9"/><circle cx="1252.1" cy="958.9" r="4.9"/><circle cx="1257.3" cy="966.1" r="4.9"/></g></g>
<g class="mk"><g class="t"><path d="M1311.5 854.4L1316.25 863.9L1306.75 863.9Z"/><path d="M1306.35 864.25L1311.1 873.75L1301.6 873.75Z"/><path d="M1301.1 886.1L1305.85 895.6L1296.35 895.6Z"/><path d="M1317.1 887.8L1321.85 897.3L1312.35 897.3Z"/><path d="M1298.4 895.6L1303.15 905.1L1293.65 905.1Z"/><path d="M1313.8 897.95L1318.55 907.45L1309.05 907.45Z"/><path d="M1319.05 900.95L1323.8 910.45L1314.3 910.45Z"/><path d="M1293.65 903.15L1298.4 912.65L1288.9 912.65Z"/><path d="M1303.7 912.7L1308.45 922.2L1298.95 922.2Z"/></g><g class="c"><circle cx="1306.4" cy="800.75" r="4.9"/><circle cx="1306.35" cy="833.05" r="4.9"/><circle cx="1301.5" cy="859.85" r="4.9"/><circle cx="1296.4" cy="880.9" r="4.9"/><circle cx="1305.6" cy="892.4" r="4.9"/><circle cx="1311.6" cy="887.9" r="4.9"/><circle cx="1309.3" cy="899.4" r="4.9"/><circle cx="1308.85" cy="923.2" r="4.9"/><circle cx="1301.5" cy="934.4" r="4.9"/><circle cx="1306.35" cy="944.1" r="4.9"/><circle cx="1311.6" cy="945.8" r="4.9"/></g></g>
<g class="mk"><g class="t"><path d="M1363.1 800.9L1367.85 810.4L1358.35 810.4Z"/><path d="M1363.1 839.15L1367.85 848.65L1358.35 848.65Z"/><path d="M1362.85 855.6L1367.6 865.1L1358.1 865.1Z"/><path d="M1367.6 855.8L1372.35 865.3L1362.85 865.3Z"/><path d="M1362.85 880.6L1367.6 890.1L1358.1 890.1Z"/><path d="M1365.35 891.1L1370.1 900.6L1360.6 900.6Z"/><path d="M1376.05 906.25L1380.8 915.75L1371.3 915.75Z"/><path d="M1350.4 909.35L1355.15 918.85L1345.65 918.85Z"/><path d="M1358.9 916.9L1363.65 926.4L1354.15 926.4Z"/></g><g class="c"><circle cx="1363.1" cy="773" r="4.9"/><circle cx="1358.9" cy="853.2" r="4.9"/><circle cx="1365.35" cy="875.25" r="4.9"/><circle cx="1356.4" cy="893.9" r="4.9"/><circle cx="1369.8" cy="893.65" r="4.9"/><circle cx="1360.35" cy="907.1" r="4.9"/><circle cx="1362.85" cy="913.6" r="4.9"/><circle cx="1371.3" cy="909.3" r="4.9"/><circle cx="1354.4" cy="920.75" r="4.9"/><circle cx="1361.1" cy="933.9" r="4.9"/><circle cx="1365.25" cy="947.75" r="4.9"/></g></g>
<g class="mk"><g class="t"><path d="M1419.6 820.25L1424.35 829.75L1414.85 829.75Z"/><path d="M1415.5 854.6L1420.25 864.1L1410.75 864.1Z"/><path d="M1406.9 882.45L1411.65 891.95L1402.15 891.95Z"/><path d="M1410.9 887.6L1415.65 897.1L1406.15 897.1Z"/><path d="M1415.1 893.6L1419.85 903.1L1410.35 903.1Z"/><path d="M1430.3 896.85L1435.05 906.35L1425.55 906.35Z"/><path d="M1409 907.1L1413.75 916.6L1404.25 916.6Z"/><path d="M1413.5 908.5L1418.25 918L1408.75 918Z"/></g><g class="c"><circle cx="1419.6" cy="848.1" r="4.9"/><circle cx="1424.1" cy="850.1" r="4.9"/><circle cx="1417.9" cy="881.4" r="4.9"/><circle cx="1423.8" cy="883.9" r="4.9"/><circle cx="1432.8" cy="887.9" r="4.9"/><circle cx="1427.8" cy="896.1" r="4.9"/><circle cx="1422.3" cy="905.25" r="4.9"/><circle cx="1417.9" cy="929.6" r="4.9"/><circle cx="1421.85" cy="939.35" r="4.9"/></g></g>
<g class="eb"><path d="M985.5 901.6V946.7"/><path class="cap" d="M980.7 901.6H990.3M980.7 946.7H990.3"/><path class="mn" d="M980.7 924.3H990.3"/></g>
<g class="eb"><path d="M1042.3 888.6V937.2"/><path class="cap" d="M1037.5 888.6H1047.1M1037.5 937.2H1047.1"/><path class="mn" d="M1037.5 912.9H1047.1"/></g>
<g class="eb"><path d="M1098.85 906.7V942.1"/><path class="cap" d="M1094.05 906.7H1103.65M1094.05 942.1H1103.65"/><path class="mn" d="M1094.05 924.5H1103.65"/></g>
<g class="eb"><path d="M1155.5 875.2V940.9"/><path class="cap" d="M1150.7 875.2H1160.3M1150.7 940.9H1160.3"/><path class="mn" d="M1150.7 908.05H1160.3"/></g>
<g class="eb"><path d="M1249.6 908.15V953.2"/><path class="cap" d="M1244.8 908.15H1254.4M1244.8 953.2H1254.4"/><path class="mn" d="M1244.8 930.9H1254.4"/></g>
<g class="eb"><path d="M1306.35 867.9V926.4"/><path class="cap" d="M1301.55 867.9H1311.15M1301.55 926.4H1311.15"/><path class="mn" d="M1301.55 897.1H1311.15"/></g>
<g class="eb"><path d="M1362.85 857.15V927.7"/><path class="cap" d="M1358.05 857.15H1367.65M1358.05 927.7H1367.65"/><path class="mn" d="M1358.05 892.4H1367.65"/></g>
<g class="eb"><path d="M1419.5 872.9V918.4"/><path class="cap" d="M1414.7 872.9H1424.3M1414.7 918.4H1424.3"/><path class="mn" d="M1414.7 895.8H1424.3"/></g>
<g class="ax">
<path d="M937.9 1018H1459.5"/>
<path d="M948.2 692.9V1019.6"/>
<path d="M1203.1 694.5V1018"/>
<path d="M937.9 1018H948.2"/>
<path d="M937.9 953.3H948.2"/>
<path d="M937.9 888.6H948.2"/>
<path d="M937.9 823.9H948.2"/>
<path d="M937.9 759.2H948.2"/>
<path d="M937.9 694.5H948.2"/>
<path d="M985.6 1018V1027.7"/>
<path d="M1042.2 1018V1027.7"/>
<path d="M1098.9 1018V1027.7"/>
<path d="M1155.5 1018V1027.7"/>
<path d="M1249.5 1018V1027.7"/>
<path d="M1306.3 1018V1027.7"/>
<path d="M1362.9 1018V1027.7"/>
<path d="M1419.5 1018V1027.7"/>
</g>
<g class="tk" text-anchor="end">
<text x="935.55" y="1027.1">0</text>
<text x="935.55" y="962.4">5</text>
<text x="935.55" y="897.7">10</text>
<text x="935.55" y="833">15</text>
<text x="935.55" y="768.3">20</text>
<text x="935.55" y="703.6">25</text>
</g>
<g class="tk x" text-anchor="middle">
<text x="985.6" y="1053.7">Pre</text>
<text x="1042.2" y="1053.7">24</text>
<text x="1098.9" y="1053.7">48</text>
<text x="1155.5" y="1053.7">72</text>
<text x="1249.5" y="1053.7">Pre</text>
<text x="1306.3" y="1053.7">24</text>
<text x="1362.9" y="1053.7">48</text>
<text x="1419.5" y="1053.7">72</text>
</g>
<text class="xt" text-anchor="middle" x="1203" y="1085.6">Time (hours)</text>
<text class="xt" text-anchor="middle" transform="translate(892.6 857.6) rotate(-90)">Irisin (ng·mL<tspan class="sup" dy="-10">-1</tspan><tspan dy="10">)</tspan></text>
<text class="pl" x="871.6" y="622.6">D</text>
<text class="gt" text-anchor="middle" x="1074.6" y="606.3">LR</text>
<text class="gt" text-anchor="middle" x="1340.7" y="606.3">HR</text>
<g class="mk"><g class="c"><circle cx="1485.25" cy="707.9" r="4.9"/></g><g class="t"><path d="M1485.25 747.5L1490 757L1480.5 757Z"/></g></g>
<text class="lg" x="1521.2" y="715.6">Males</text>
<text class="lg" x="1521.2" y="759.5">Females</text>
<text class="es" transform="translate(1305.2 692.15) rotate(-45)">ES = 1.11</text>
<text class="st" text-anchor="middle" x="1306" y="749.4">*</text>
<text class="st" text-anchor="middle" x="1306" y="733.8">*</text>
<text class="st" text-anchor="middle" x="1306" y="718.2">*</text>
<text class="es" transform="translate(1360.6 691.3) rotate(-45)">ES = 1.08</text>
<text class="st" text-anchor="middle" x="1362" y="749.4">*</text>
<text class="st" text-anchor="middle" x="1362" y="733.8">*</text>
<text class="st" text-anchor="middle" x="1362" y="718.2">*</text>
<text class="es" transform="translate(1417.7 691.65) rotate(-45)">ES = 0.98</text>
<text class="st" text-anchor="middle" x="1418.7" y="749.4">*</text>
<text class="st" text-anchor="middle" x="1418.7" y="733.8">*</text>
<text class="st" text-anchor="middle" x="1418.7" y="718.2">*</text>
</g>
</svg>
</body>
</html>
